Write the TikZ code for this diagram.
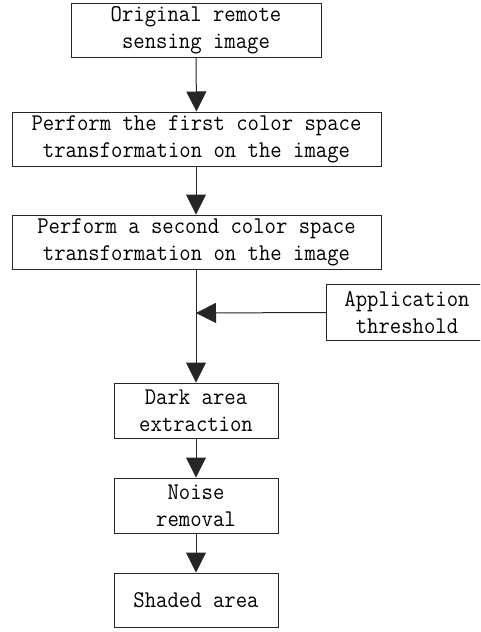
\documentclass[tikz,border=0pt]{standalone}
\usepackage{fontspec}
\setmonofont[FakeStretch=0.92]{Latin Modern Mono}
\usetikzlibrary{arrows.meta}
\tikzset{
  txt/.style={inner sep=0pt, align=center,
    font=\ttfamily\fontsize{24pt}{27pt}\selectfont, text=black},
  box/.style={txt, draw=black!85, line width=1pt},
  flow/.style={draw=black!85, line width=1pt, -{Triangle[length=20pt,width=20pt]}}
}
\begin{document}
\begin{tikzpicture}[x=1pt,y=-1pt]
\useasboundingbox (0,0) rectangle (480,632);
\clip (0,0) rectangle (480,632);
\node[box, minimum width=250pt, minimum height=54pt] (b1) at (196,30) {Original remote\\sensing image};
\node[box, minimum width=369pt, minimum height=54pt] (b2) at (196.5,139) {Perform the first color space\\transformation on the image};
\node[box, minimum width=369pt, minimum height=54pt] (b3) at (196.5,242) {Perform a second color space\\transformation on the image};
\node[txt, minimum width=160pt, minimum height=55pt] (th) at (407,312.5) {Application\\threshold};
\draw[draw=black!85, line width=1pt] (th.north west) rectangle ([xshift=30pt]th.south east);
\node[box, minimum width=164pt, minimum height=55pt] (b4) at (196,410.5) {Dark area\\extraction};
\node[box, minimum width=164pt, minimum height=55pt] (b5) at (196,505.5) {Noise\\removal};
\node[box, minimum width=164pt, minimum height=54pt] (b6) at (196,600) {Shaded area};
\coordinate (j) at (196,313);
\draw[flow] (b1.south) -- (b2.north);
\draw[flow] (b2.south -| b1.south) -- (b3.north -| b1.south);
\draw[flow] (b3.south -| b1.south) -- (b4.north);
\draw[flow] (th.west) -- (j);
\draw[flow] (b4.south) -- (b5.north);
\draw[flow] (b5.south) -- (b6.north);
\end{tikzpicture}
\end{document}
